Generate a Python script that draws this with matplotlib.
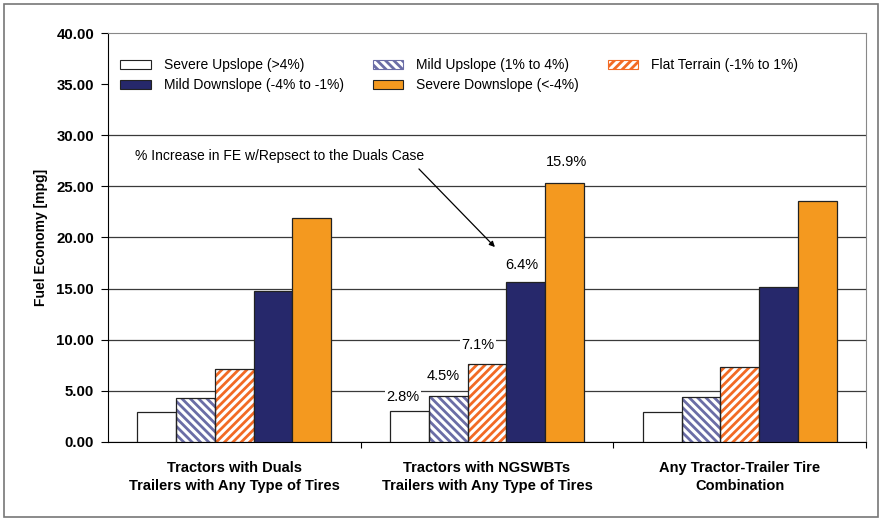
import numpy as np
import matplotlib
matplotlib.use("Agg")
from matplotlib import pyplot as plt
from matplotlib.patches import Rectangle

plt.rcParams['font.family'] = ['Liberation Sans', 'DejaVu Sans']
plt.rcParams['hatch.linewidth'] = 2.0

categorias = ["Tractors with Duals\nTrailers with Any Type of Tires",
              "Tractors with NGSWBTs\nTrailers with Any Type of Tires",
              "Any Tractor-Trailer Tire\nCombination"]
series = ["Severe Upslope (>4%)", "Mild Upslope (1% to 4%)", "Flat Terrain (-1% to 1%)",
          "Mild Downslope (-4% to -1%)", "Severe Downslope (<-4%)"]

severe_up = [2.92, 3.00, 2.92]
mild_up = [4.30, 4.50, 4.39]
flat = [7.11, 7.60, 7.34]
mild_down = [14.72, 15.65, 15.11]
severe_down = [21.90, 25.37, 23.57]
valores = [severe_up, mild_up, flat, mild_down, severe_down]

# aumento percentual em relacao ao caso "Duals" (grupo do meio)
rotulos = ["2.8%", "4.5%", "7.1%", "6.4%", "15.9%"]
rot_x = [0.667, 0.826, 0.964, 1.138, 1.316]
rot_y = [4.4, 6.5, 9.5, 17.3, 27.4]

cores = ["white", "white", "white", "#26286b", "#f4991f"]
hachuras = [None, "\\\\\\\\", "////", None, None]
cor_hachura = [None, "#6b6da6", "#f26a24", None, None]

fig = plt.figure(figsize=(8.82, 5.19), dpi=100)
ax = fig.add_axes([0.1224, 0.1484, 0.8595, 0.788])

x = np.arange(len(categorias))
largura = 0.1535
for i, (nome, vals) in enumerate(zip(series, valores)):
    pos = x + (i - 2) * largura
    if hachuras[i]:
        ax.bar(pos, vals, largura, color="white", edgecolor=cor_hachura[i],
               hatch=hachuras[i], linewidth=0, zorder=3)
    ax.bar(pos, vals, largura, color="none" if hachuras[i] else cores[i],
           edgecolor="#222222", linewidth=0.9, zorder=4)

ax.set_xlim(-0.5, 2.5)
ax.set_ylim(0, 40)
ax.set_yticks(np.arange(0, 41, 5))
ax.set_yticklabels([f"{v:.2f}" for v in np.arange(0, 41, 5)], fontweight="bold", fontsize=10.8)
ax.set_xticks(x)
ax.set_xticklabels(categorias, fontweight="bold", fontsize=10.5, linespacing=1.3)
ax.set_xticks([0.5, 1.5, 2.5], minor=True)
ax.tick_params(axis="x", which="major", length=0, pad=14)
ax.tick_params(axis="x", which="minor", length=4, direction="out", width=0.8)
ax.tick_params(axis="y", length=5, direction="out", width=0.8, pad=5)
ax.yaxis.grid(True, color="#3a3a3a", linewidth=0.9, zorder=0)
ax.set_axisbelow(True)
for lado in ["top", "right"]:
    ax.spines[lado].set_color("#888888")
for lado in ["left", "bottom"]:
    ax.spines[lado].set_color("black")
ax.set_ylabel("Fuel Economy [mpg]", fontweight="bold", fontsize=10, labelpad=6)

# caixa branca da legenda tapa as linhas de grade de cima
ax.add_patch(Rectangle((0, 31.2 / 40), 1, 1 - 31.2 / 40, transform=ax.transAxes,
                       facecolor="white", edgecolor="none", zorder=1))

for t, tx, ty in zip(rotulos, rot_x, rot_y):
    ax.text(tx, ty, t, ha="center", va="center", fontsize=10.5, zorder=5,
            bbox=dict(facecolor="white", edgecolor="none", pad=1.0))

ax.text(-0.393, 28.0, "% Increase in FE w/Repsect to the Duals Case", ha="left",
        va="center", fontsize=10, zorder=5)
ax.annotate("", xy=(1.039, 18.87), xytext=(0.723, 26.9),
            arrowprops=dict(arrowstyle="-|>", color="black", lw=0.9, mutation_scale=8),
            zorder=6)

# legenda: ordem para preencher linhas como no original
ordem = [0, 3, 1, 4, 2]
handles = []
for i in range(5):
    if hachuras[i]:
        handles.append(Rectangle((0, 0), 1, 1, facecolor="white", edgecolor=cor_hachura[i],
                                 hatch=hachuras[i], linewidth=0.8))
    else:
        handles.append(Rectangle((0, 0), 1, 1, facecolor=cores[i], edgecolor="#222222",
                                 linewidth=0.8))
leg = ax.legend([handles[i] for i in ordem], [series[i] for i in ordem], ncol=3,
                loc="upper left", bbox_to_anchor=(0.0, 0.969), frameon=False,
                fontsize=10, handlelength=2.2, handleheight=0.6, handletextpad=0.9,
                columnspacing=2.1, labelspacing=0.42)

# moldura da figura
fig.patches.append(Rectangle((0.004, 0.004), 0.992, 0.988, transform=fig.transFigure,
                             fill=False, edgecolor="#777777", linewidth=1.2))

fig.savefig("out.png", dpi=100)
